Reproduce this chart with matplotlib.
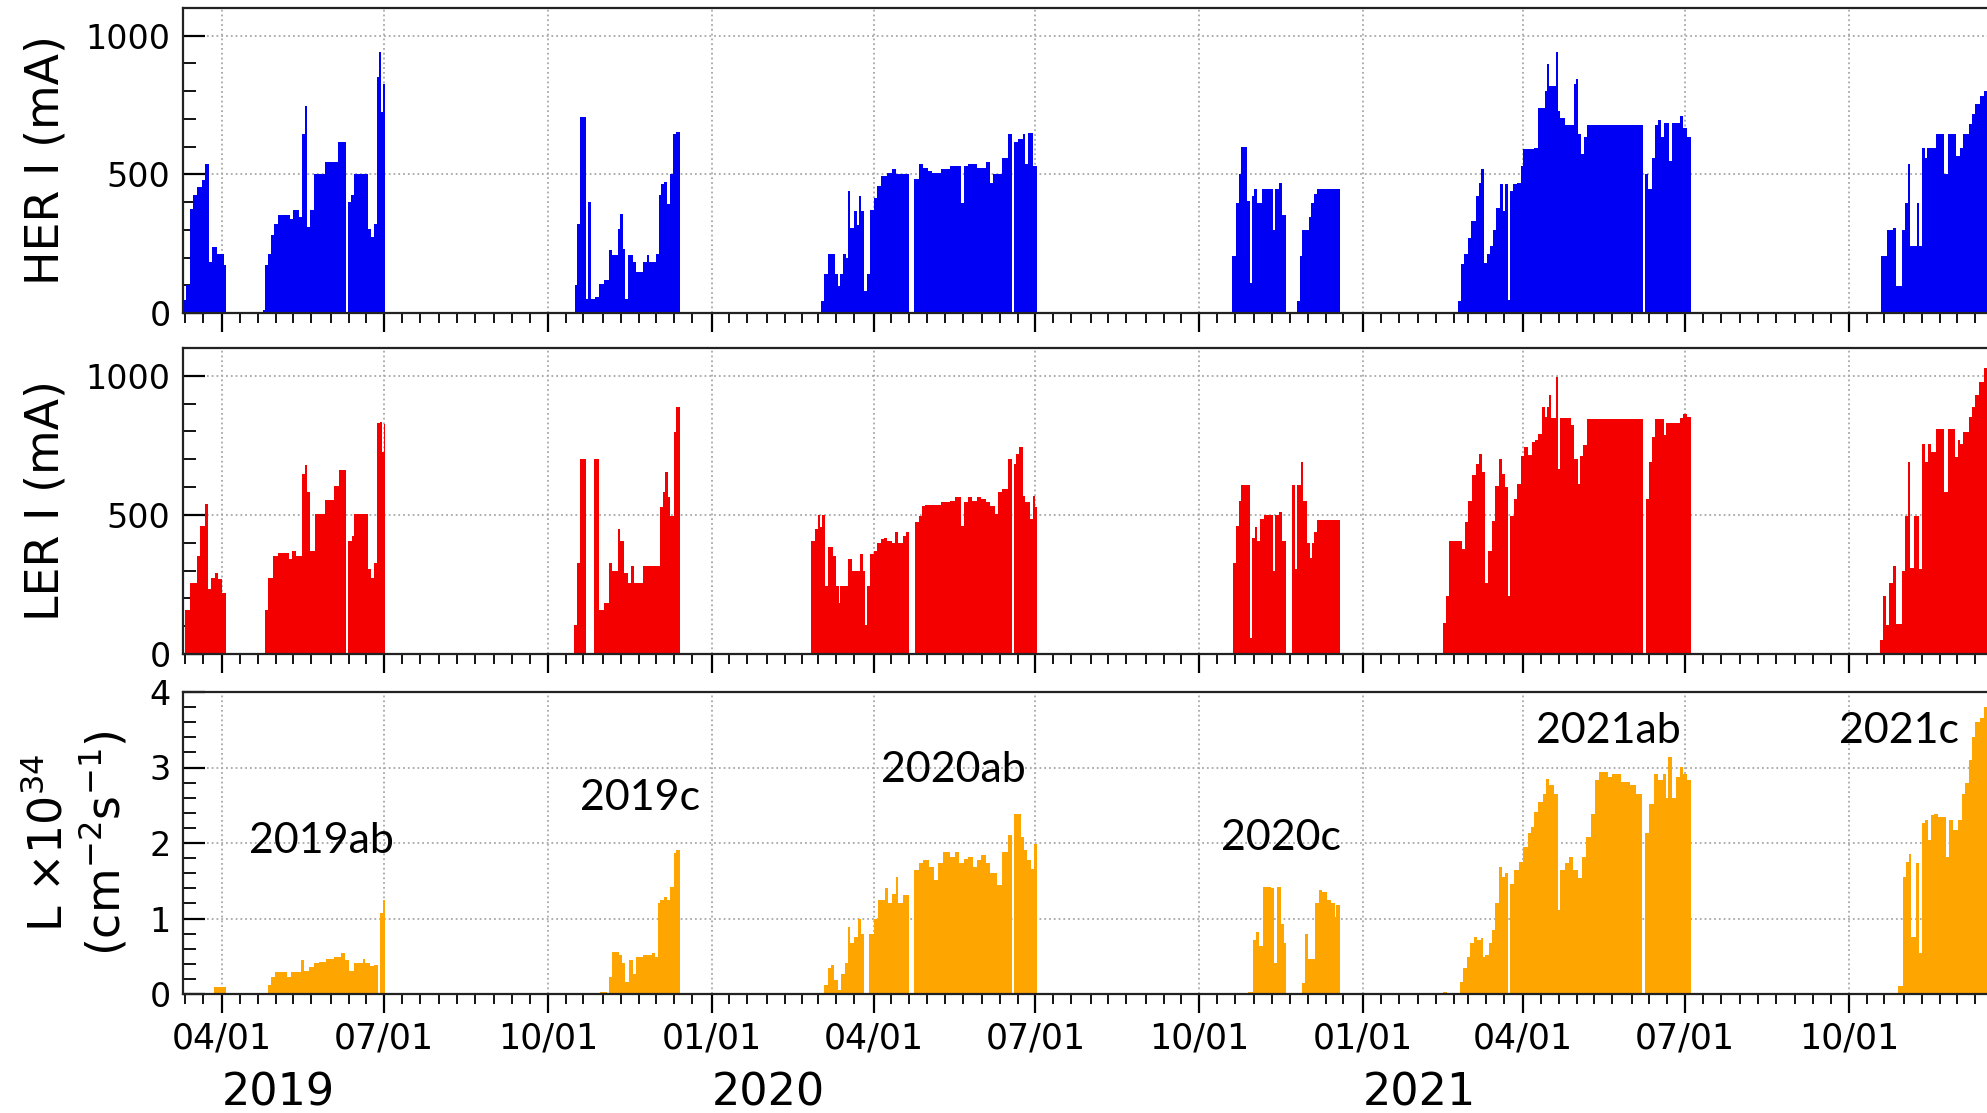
import matplotlib
matplotlib.use("Agg")
import matplotlib.pyplot as plt
import matplotlib.dates as mdates
from matplotlib.ticker import MultipleLocator
from matplotlib.transforms import blended_transform_factory
import numpy as np

# ---------------- data (days counted from ORIGIN) ----------------
ORIGIN = np.datetime64("2019-01-01")
XLIM_DAYS = [68.0, 1085.0]

# HER beam current (mA): step edges (days) and values; runs separated by zero gaps
her_edges = [
    68.0, 69.8, 71.8, 73.6, 76.1, 78.6, 80.1, 82.4, 84.4, 87.0, 90.8, 92.0,
    113.0, 114.1, 115.6, 117.3, 119.1, 121.6, 128.2, 130.0, 133.3, 135.1, 136.3, 137.8, 139.4, 141.4,
    147.7, 155.3, 159.6, 160.6, 162.2, 164.2, 171.8, 173.8, 175.6, 176.8, 178.4, 179.4, 180.6, 181.4,
    288.2, 289.5, 290.8, 294.6, 295.8, 297.3, 299.6, 301.6, 304.7, 307.2, 309.0, 312.3, 313.5, 315.1,
    316.6, 318.1, 321.1, 322.7, 326.7, 328.7, 330.0, 333.8, 335.6, 336.8, 338.4, 340.1, 341.9, 343.4,
    344.9, 347.0,
    426.5, 428.0, 430.5, 434.3, 436.0, 437.3, 439.0, 440.6, 441.6, 442.8, 444.8, 446.6, 447.9, 449.1,
    450.6, 452.2, 454.2, 456.2, 458.2, 460.0, 463.7, 466.3, 468.8, 475.8, 478.9, 481.4, 483.9, 486.4,
    488.9, 494.0, 499.0, 505.3, 506.6, 509.1, 514.1, 519.2, 521.2, 522.9, 528.0, 531.8, 533.8, 535.0,
    537.3, 539.8, 541.3, 542.6, 545.6, 548.1,
    657.7, 659.7, 661.5, 662.7, 665.8, 667.3, 668.5, 669.8, 671.6, 674.1, 680.4, 681.6, 684.1, 685.4,
    687.9, 694.2, 695.5, 696.7, 700.5, 701.8, 703.5, 705.0, 718.2,
    784.3, 786.0, 787.8, 789.8, 791.8, 794.3, 796.0, 797.3, 799.3, 800.8, 802.3, 804.3, 806.0, 808.0,
    809.5, 811.0, 812.3, 813.5, 815.3, 817.8, 819.8, 821.0, 827.1, 829.1, 830.8, 833.3, 834.5, 835.7,
    839.4, 840.6, 841.8, 844.3, 849.7, 850.7, 852.1, 853.6, 855.3, 857.0, 888.4, 889.6, 891.3, 893.3,
    895.0, 897.0, 898.7, 900.2, 903.1, 904.4, 909.3, 911.0, 913.0, 915.5,
    1022.3, 1025.5, 1028.7, 1030.5, 1033.7, 1035.4, 1037.2, 1038.6, 1042.1, 1043.6, 1045.3, 1046.6,
    1047.8, 1052.8, 1057.7, 1059.5, 1064.0, 1066.4, 1068.2, 1071.4, 1073.4, 1075.1, 1077.6, 1080.0, 1090.0,
]
her_vals = [
    46, 100, 376, 424, 454, 478, 538, 184, 238, 214, 172,
    0,
    10, 172, 214, 280, 322, 352, 340, 372, 346, 646, 748, 310, 370, 502, 546, 616, 0, 400, 424, 502,
    304, 274, 322, 852, 940, 724, 826,
    0,
    100, 322, 706, 50, 400, 50, 58, 106, 118, 226, 208, 304, 358, 232, 52, 208, 184, 148, 184, 208,
    184, 214, 424, 466, 472, 394, 502, 646, 652,
    0,
    42, 141, 211, 141, 96, 141, 211, 199, 440, 307, 367, 319, 422, 367, 78, 139, 370, 416, 458, 494,
    506, 518, 500, 0, 482, 539, 524, 513, 506, 518, 530, 398, 530, 536, 524, 545, 470, 500, 558, 645,
    0, 615, 627, 645, 536, 650, 530,
    0,
    205, 398, 500, 600, 404, 108, 422, 449, 398, 449, 301, 449, 470, 355, 0, 42, 205, 301, 346, 398,
    428, 449,
    0,
    42, 175, 211, 271, 331, 422, 470, 518, 181, 211, 241, 301, 380, 466, 367, 466, 48, 440, 466, 470,
    530, 590, 596, 739, 741, 801, 898, 819, 940, 729, 705, 678, 825, 843, 645, 572, 633, 678, 0, 500,
    449, 560, 678, 695, 633, 687, 548, 687, 711, 669, 635,
    0,
    205, 301, 307, 96, 301, 398, 536, 241, 398, 241, 596, 560, 596, 645, 500, 645, 566, 596, 645, 681,
    717, 753, 783, 801,
]

# LER beam current (mA)
ler_edges = [
    69.2, 71.8, 75.6, 77.3, 80.1, 82.2, 83.7, 85.7, 87.5, 90.0, 92.0,
    114.0, 115.6, 118.6, 121.6, 127.5, 129.2, 131.3, 135.1, 136.3, 137.8, 139.4, 141.9, 147.7, 152.8,
    155.8, 159.6, 160.9, 162.9, 164.2, 171.8, 173.8, 175.6, 176.8, 178.9, 179.9, 180.7, 181.4,
    287.7, 289.5, 290.8, 294.6, 298.9, 301.6, 304.7, 307.2, 309.0, 312.3, 313.5, 316.0, 318.1, 319.9,
    321.6, 326.7, 335.8, 337.6, 338.9, 340.6, 341.9, 343.9, 345.2, 347.0,
    420.9, 422.9, 424.7, 426.0, 427.2, 429.0, 430.5, 433.0, 434.8, 436.5, 437.3, 441.6, 444.1, 448.6,
    449.9, 451.1, 452.4, 454.2, 456.2, 458.2, 460.0, 461.7, 463.7, 466.3, 468.3, 470.0, 472.6, 474.3,
    475.8, 479.4, 481.4, 483.4, 485.2, 494.0, 499.0, 501.5, 505.3, 506.6, 509.1, 511.6, 514.1, 516.6,
    519.2, 521.2, 524.2, 526.2, 528.0, 531.8, 533.8, 535.0, 536.3, 538.0, 539.8, 541.3, 543.8, 545.6,
    546.9, 548.1,
    658.2, 659.7, 661.5, 662.7, 667.3, 668.5, 670.3, 671.6, 673.3, 675.3, 680.4, 681.6, 684.1, 685.4,
    687.9, 690.9, 693.0, 694.2, 696.0, 697.5, 699.3, 701.0, 702.5, 703.5, 705.0, 718.2,
    776.0, 777.8, 779.3, 786.8, 788.5, 790.3, 792.3, 794.3, 796.0, 797.8, 799.8, 801.0, 803.5, 805.3,
    807.3, 809.3, 811.0, 812.3, 813.5, 816.0, 817.8, 819.8, 821.7, 823.5, 825.9, 827.6, 829.6, 831.5,
    833.3, 834.5, 835.7, 836.9, 839.4, 840.6, 841.8, 848.0, 849.7, 851.6, 852.9, 854.6, 857.0, 888.4,
    889.8, 891.6, 893.3, 895.2, 900.2, 901.1, 909.3, 911.0, 913.0, 915.5,
    1021.3, 1023.0, 1024.8, 1026.7, 1028.7, 1030.5, 1033.7, 1035.4, 1037.2, 1038.6, 1040.4, 1043.6,
    1045.3, 1047.0, 1048.6, 1050.3, 1052.8, 1057.7, 1059.5, 1063.4, 1065.1, 1066.4, 1068.2, 1071.4,
    1073.4, 1075.1, 1076.9, 1080.0, 1090.0,
]
ler_vals = [
    159, 256, 352, 461, 539, 232, 274, 292, 268, 220,
    0,
    159, 274, 352, 362, 340, 370, 352, 648, 678, 581, 370, 503, 554, 605, 660, 0, 406, 425, 503, 304,
    274, 328, 829, 835, 726, 825,
    0,
    105, 328, 702, 0, 702, 159, 183, 328, 298, 449, 406, 292, 256, 316, 256, 316, 527, 581, 654, 563,
    497, 798, 889,
    0,
    406, 449, 499, 455, 499, 244, 386, 352, 244, 183, 246, 343, 298, 358, 298, 105, 244, 358, 370, 400,
    412, 418, 406, 400, 437, 400, 425, 437, 0, 473, 497, 533, 537, 545, 551, 563, 461, 545, 563, 551,
    563, 557, 545, 533, 503, 581, 593, 702, 0, 684, 720, 744, 569, 545, 485, 569, 527,
    0,
    328, 461, 551, 608, 57, 418, 455, 406, 485, 499, 298, 499, 509, 406, 0, 608, 304, 608, 690, 551,
    400, 346, 400, 437, 482,
    0,
    111, 207, 406, 376, 473, 551, 642, 684, 720, 654, 256, 370, 479, 605, 702, 648, 599, 207, 497, 557,
    611, 712, 744, 714, 762, 768, 792, 889, 853, 889, 931, 847, 997, 666, 847, 822, 702, 611, 712, 750,
    844, 0, 557, 690, 780, 844, 786, 829, 847, 861, 853,
    0,
    51, 207, 105, 256, 316, 108, 298, 497, 690, 310, 497, 304, 756, 690, 756, 726, 810, 581, 810, 708,
    768, 756, 798, 853, 889, 931, 979, 1027,
]

# Luminosity (1e34 cm^-2 s^-1)
lum_edges = [
    85.2, 92.0,
    115.6, 117.3, 119.9, 126.2, 128.7, 134.3, 135.8, 138.9, 141.4, 144.4, 148.5, 152.8, 156.6, 159.1,
    161.1, 164.2, 169.2, 170.5, 173.0, 175.6, 177.3, 178.9, 180.1, 181.4,
    302.2, 306.0, 307.2, 309.0, 313.0, 314.8, 316.6, 318.6, 321.1, 322.7, 326.7, 331.3, 333.3, 335.1,
    336.3, 338.4, 340.1, 341.9, 343.9, 345.2, 347.0,
    428.0, 430.5, 432.3, 434.0, 436.0, 438.0, 439.8, 441.6, 442.8, 444.8, 447.4, 449.1, 450.6, 453.2,
    456.2, 458.7, 462.5, 464.2, 466.3, 468.8, 470.0, 472.6, 475.8, 478.9, 481.4, 483.9, 486.9, 490.2,
    492.0, 495.2, 499.0, 502.0, 504.0, 506.6, 509.1, 512.1, 514.1, 516.6, 519.2, 521.7, 525.5, 528.0,
    531.8, 533.8, 535.0, 538.8, 540.6, 542.3, 544.3, 546.4, 548.1,
    666.5, 669.0, 670.8, 672.8, 674.8, 679.1, 680.9, 682.9, 684.9, 686.7, 687.9, 696.7, 698.5, 700.0,
    704.3, 706.1, 708.1, 710.6, 713.1, 715.1, 716.1, 718.2,
    776.0, 778.5, 785.3, 787.3, 789.3, 791.0, 793.5, 795.3, 797.3, 798.5, 799.8, 801.8, 803.5, 805.3,
    807.3, 809.3, 811.0, 812.3, 813.5, 816.0, 818.5, 821.0, 823.5, 825.2, 827.1, 829.6, 832.0, 834.0,
    835.7, 838.1, 840.6, 841.8, 844.3, 846.7, 849.2, 851.6, 854.1, 856.5, 859.0, 861.4, 863.9, 868.8,
    871.2, 876.1, 881.0, 884.7, 887.9, 889.6, 892.0, 894.5, 897.0, 899.4, 901.1, 902.6, 904.4, 906.8,
    909.3, 911.0, 913.0, 915.5,
    1031.7, 1034.2, 1036.2, 1037.9, 1039.2, 1041.6, 1043.6, 1045.3, 1046.6, 1048.6, 1050.3, 1052.0,
    1054.0, 1058.5, 1060.2, 1062.7, 1065.1, 1067.6, 1069.3, 1071.3, 1073.3, 1075.0, 1077.5, 1080.0, 1090.0,
]
lum_vals = [
    0.09,
    0,
    0.12, 0.23, 0.29, 0.23, 0.29, 0.45, 0.30, 0.36, 0.41, 0.43, 0.46, 0.49, 0.54, 0.45, 0.30, 0.41,
    0.47, 0.41, 0.37, 0.38, 0, 1.07, 1.24,
    0,
    0.02, 0, 0.23, 0.56, 0.52, 0.41, 0.16, 0.45, 0.27, 0.49, 0.52, 0.54, 0.49, 1.20, 1.24, 1.29, 1.24,
    1.42, 1.87, 1.91,
    0,
    0.12, 0.34, 0.38, 0.19, 0.05, 0.27, 0.41, 0.89, 0.67, 0.76, 1.00, 0.80, 0, 0.80, 1.00, 1.24, 1.40,
    1.20, 1.33, 1.55, 1.20, 1.31, 0, 1.64, 1.73, 1.77, 1.68, 1.51, 1.73, 1.88, 1.82, 1.88, 1.73, 1.79,
    1.82, 1.68, 1.77, 1.84, 1.73, 1.60, 1.44, 1.88, 2.10, 0, 2.39, 2.08, 1.91, 1.77, 1.66, 1.99,
    0,
    0.03, 0.71, 0.82, 0.63, 1.42, 1.40, 0.41, 1.42, 0.93, 0.67, 0, 0.14, 0.80, 0.47, 1.20, 1.38, 1.35,
    1.24, 1.20, 1.02, 1.18,
    0,
    0.03, 0, 0.16, 0.34, 0.49, 0.67, 0.76, 0.71, 0.74, 0.49, 0.52, 0.67, 0.85, 1.20, 1.68, 1.55, 1.60,
    0, 1.46, 1.64, 1.75, 1.95, 2.13, 2.21, 2.41, 2.54, 2.65, 2.85, 2.77, 2.65, 1.11, 1.64, 1.73, 1.82,
    1.64, 1.53, 1.82, 2.08, 2.39, 2.83, 2.94, 2.88, 2.92, 2.81, 2.77, 2.65, 0, 2.13, 2.52, 2.92, 2.83,
    2.92, 2.59, 3.14, 2.59, 2.88, 3.01, 2.92, 2.83,
    0,
    0.10, 1.55, 1.75, 1.86, 0.76, 1.73, 0.54, 2.26, 2.30, 2.04, 2.37, 2.39, 2.35, 1.82, 2.30, 2.17,
    2.30, 2.65, 2.79, 3.10, 3.40, 3.60, 3.65, 3.80,
]

run_labels = ["2019ab", "2019c", "2020ab", "2020c", "2021ab", "2021c"]
run_label_days = [146, 325, 501, 685, 869, 1032]
run_label_lum = [2.02, 2.60, 2.97, 2.07, 3.48, 3.48]

year_labels = ["2019", "2020", "2021"]
year_label_days = [90, 365, 731]

# ---------------- figure ----------------
W, H = 1987, 1113
fig = plt.figure(figsize=(W / 100, H / 100), dpi=100)

def num(days):
    return mdates.date2num(ORIGIN) + np.asarray(days, dtype=float)

left = 183 / W
width = 1.0 - left + 0.003
boxes = [(8, 313), (348, 654), (692, 994)]
axes = []
for top, bot in boxes:
    ax = fig.add_axes([left, 1 - bot / H, width, (bot - top) / H])
    axes.append(ax)

panels = [
    (axes[0], her_edges, her_vals, "#0000f5", 1100, 500, 100, "HER I (mA)"),
    (axes[1], ler_edges, ler_vals, "#f50000", 1100, 500, 100, "LER I (mA)"),
    (axes[2], lum_edges, lum_vals, "#ffa500", 4, 1, 0.2,
     "L $\\times$10$^{34}$\n(cm$^{-2}$s$^{-1}$)"),
]

for i, (ax, edges, vals, color, ytop, ymaj, ymin, ylab) in enumerate(panels):
    ax.stairs(vals, num(edges), fill=True, color=color, linewidth=0, baseline=0)
    ax.set_xlim(num(XLIM_DAYS))
    ax.set_ylim(0, ytop)
    ax.set_axisbelow(True)
    ax.yaxis.set_major_locator(MultipleLocator(ymaj))
    ax.yaxis.set_minor_locator(MultipleLocator(ymin))
    ax.xaxis.set_major_locator(mdates.MonthLocator(bymonth=[1, 4, 7, 10]))
    ax.xaxis.set_minor_locator(mdates.DayLocator(bymonthday=[1, 11, 21]))
    ax.xaxis.set_major_formatter(mdates.DateFormatter("%m/%d"))
    ax.grid(which="major", linestyle=":", color="#a8a8a8", linewidth=1.3)
    ax.tick_params(axis="x", which="major", direction="out", length=14, width=1.6,
                   labelsize=25, pad=6)
    ax.tick_params(axis="x", which="minor", direction="out", length=7, width=1.3)
    ax.tick_params(axis="y", which="major", direction="in", length=16, width=1.6,
                   labelsize=24, pad=9)
    ax.tick_params(axis="y", which="minor", direction="in", length=9, width=1.3)
    for side in ["left", "top", "bottom"]:
        ax.spines[side].set_linewidth(1.6)
        ax.spines[side].set_color("#222222")
    ax.spines["right"].set_visible(False)
    if i < 2:
        ax.tick_params(axis="x", labelbottom=False)
        xl = (46 - 183) / 1804
    else:
        xl = (78 - 183) / 1804
    ax.text(xl, 0.5, ylab, transform=ax.transAxes, rotation=90, ha="center",
            va="center", fontsize=33, linespacing=1.15)

ax3 = axes[2]
for lab, d, y in zip(run_labels, run_label_days, run_label_lum):
    ax3.text(num(d), y, lab, ha="center", va="center", fontsize=31,
             family=["Lato", "DejaVu Sans"], color="black")

trans = blended_transform_factory(ax3.transData, fig.transFigure)
for lab, d in zip(year_labels, year_label_days):
    fig.text(num(d), 1 - 1106 / H, lab, transform=trans, ha="left",
             va="baseline", fontsize=32)

fig.savefig("out.png", dpi=100)
